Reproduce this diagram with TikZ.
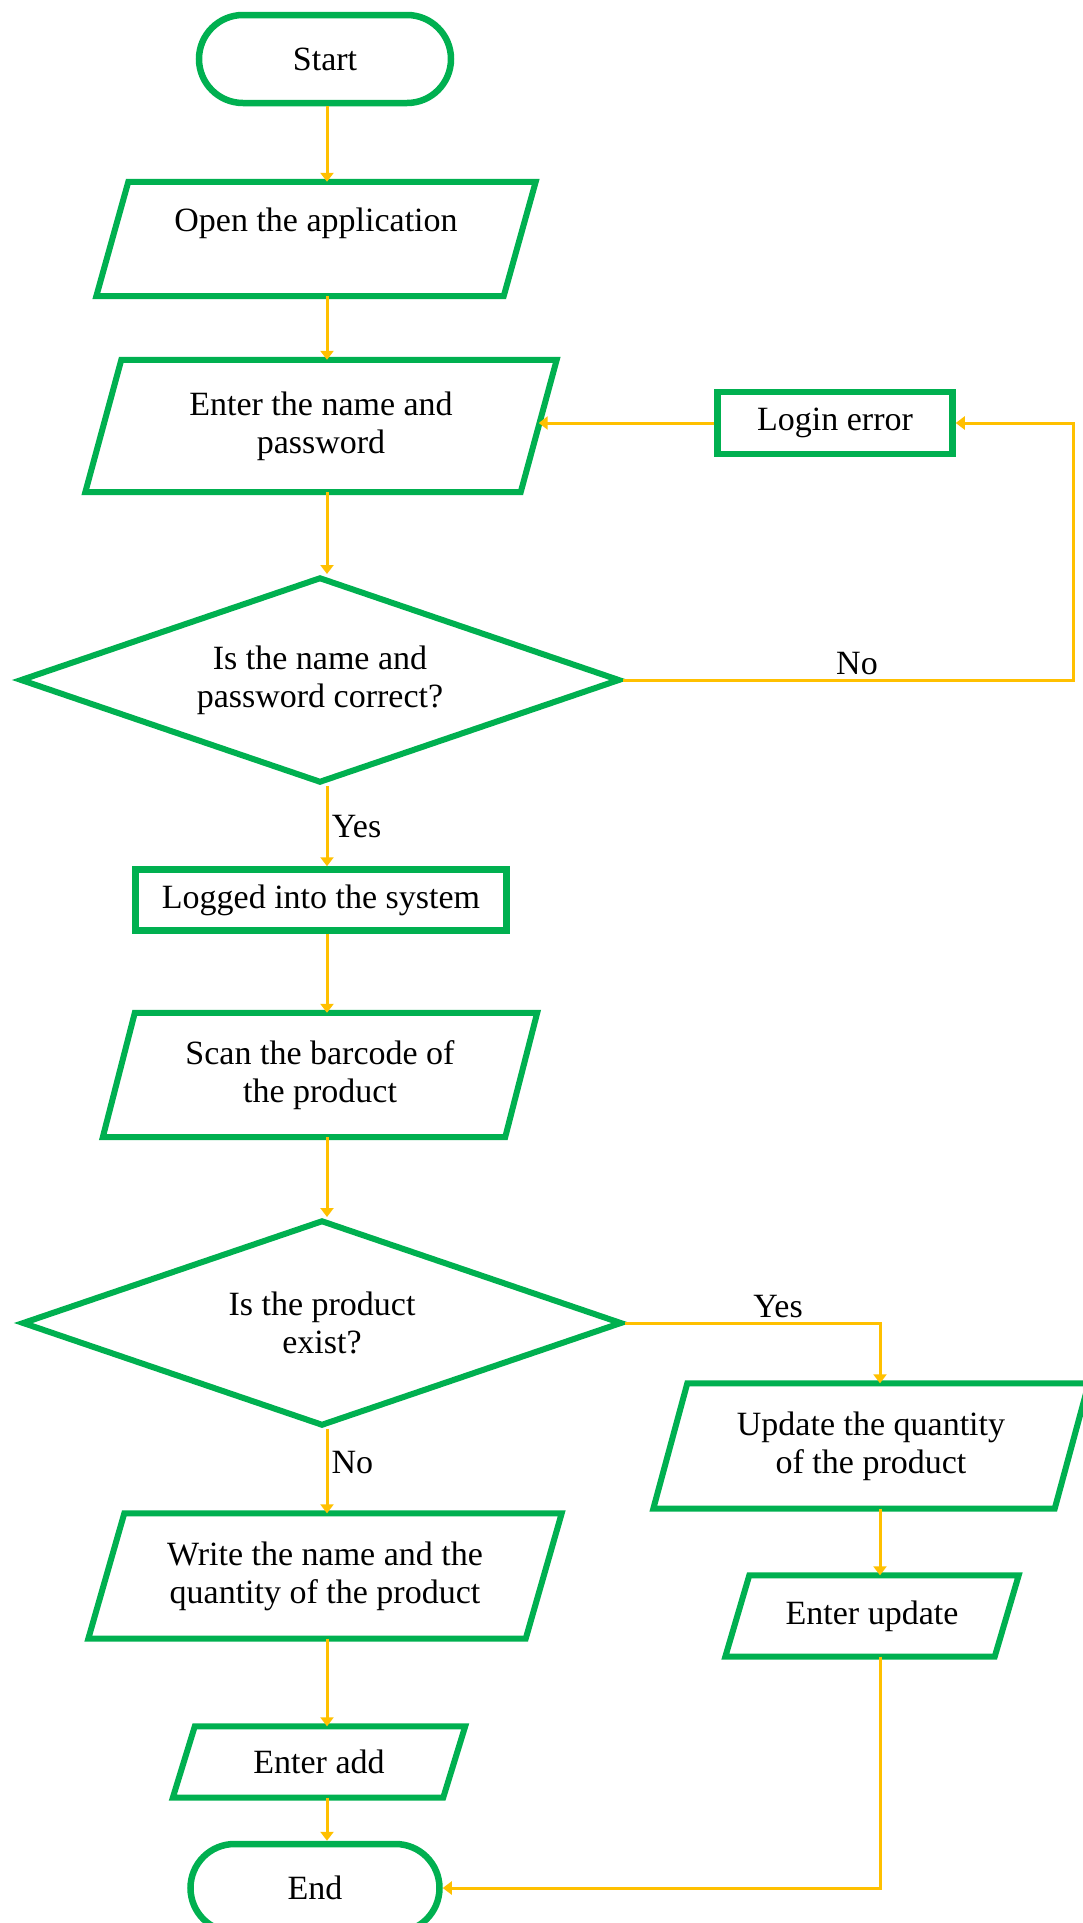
\documentclass[tikz,border=0pt]{standalone}
\usepackage{fontspec}
\setmainfont{Liberation Serif}
\usetikzlibrary{shapes.geometric,arrows.meta}
\definecolor{boxgreen}{HTML}{00B050}
\definecolor{flowgold}{HTML}{FFC000}
\begin{document}
\begin{tikzpicture}[x=1pt,y=-1pt,
  font=\fontsize{34}{38}\selectfont,
  term/.style={draw=boxgreen,line width=6.5pt,rectangle,rounded corners=44pt,minimum width=252pt,minimum height=88pt},
  proc/.style={draw=boxgreen,line width=6.5pt,rectangle},
  io/.style={rectangle,align=center,inner sep=0pt},
  iobox/.style={draw=boxgreen,line width=6pt},
  decide/.style={draw=boxgreen,line width=6pt,diamond,shape aspect=2.9,align=center,minimum width=600pt,minimum height=206pt},
  flow/.style={draw=flowgold,line width=3pt,-{Triangle[width=13pt,length=9pt]}}]
\useasboundingbox (0,0) rectangle (1083,1923);
% edit here for the boxes of the main column
\node[term] (start) at (325,59) {Start};
\node[io,minimum width=407pt,minimum height=114pt] (open) at (316,239) {\raisebox{16pt}[\height][\depth]{Open the application}};
\node[io,minimum width=435pt,minimum height=132pt] (enter) at (321,426) {Enter the name and\\password};
\node[decide] (dec1) at (320,680) {Is the name and\\password correct?};
\node[proc,minimum width=371pt,minimum height=61pt] (logged) at (321,900) {Logged into the system};
\node[io,minimum width=402pt,minimum height=124pt] (scan) at (320,1075) {Scan the barcode of\\the product};
\node[decide] (dec2) at (322,1323) {Is the product\\exist?};
\node[io,minimum width=437pt,minimum height=125pt] (write) at (325,1576) {Write the name and the\\quantity of the product};
\node[io,minimum width=270pt,minimum height=71pt] (add) at (319,1762) {Enter add};
\node[term,minimum width=249pt] (end) at (315,1888) {End};
% edit here for the boxes on the right
\node[proc,minimum width=235pt,minimum height=62pt] (login) at (835,423) {Login error};
\node[io,minimum width=401pt,minimum height=125pt] (update) at (871,1446) {Update the quantity\\of the product};
\node[io,minimum width=269pt,minimum height=81pt] (eupd) at (872,1616) {Enter update};
% edit here for the slant of the parallelograms
\foreach \n/\s in {open/16,enter/18,scan/16,write/18,add/11,update/17,eupd/12}
\draw[iobox] ([xshift=\s pt]\n.north west) -- ([xshift=\s pt]\n.north east) -- ([xshift=-\s pt]\n.south east) -- ([xshift=-\s pt]\n.south west) -- cycle;
\coordinate (col) at (327,0);
\coordinate (ycol) at (880,0);
\coordinate (rx) at (1073,0);
\foreach \a/\b in {start/open,open/enter,enter/dec1,logged/scan,scan/dec2,write/add,add/end} % straight arrows
\draw[flow] (\a.south -| col) -- (\b.north -| col);
\draw[flow] (dec1.south -| col) -- node[right] {Yes} (logged.north -| col);
\draw[flow] (dec2.south -| col) -- node[right,inner sep=3pt,pos=0.4] {No} (write.north -| col);
\draw[flow] (dec1.east) -- node[pos=0.52,above] {No} (dec1.east -| rx) |- (login.east);
\draw[flow] (login.west) -- (login.west -| enter.east);
\draw[flow] (dec2.east) -| node[pos=0.3,above] {Yes} (update.north -| ycol);
\draw[flow] (update.south -| ycol) -- (eupd.north -| ycol);
\draw[flow] (eupd.south -| ycol) |- (end.east);
\end{tikzpicture}
\end{document}
